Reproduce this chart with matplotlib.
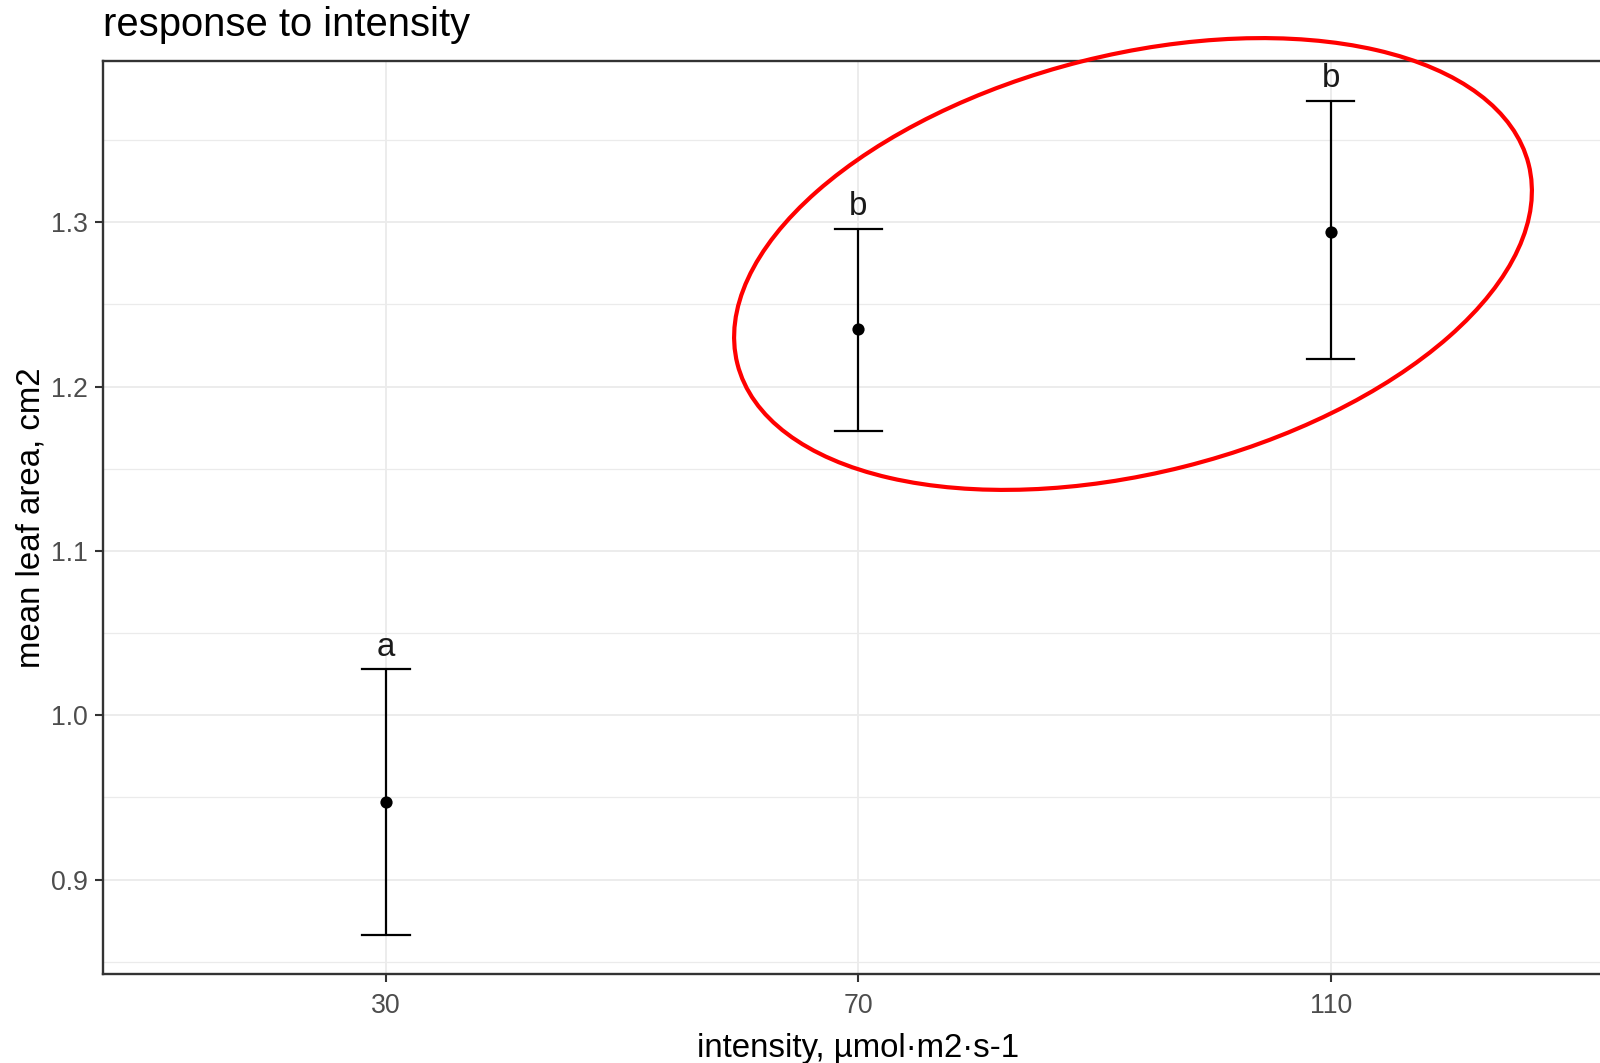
import matplotlib
matplotlib.use("Agg")
import matplotlib.pyplot as plt
from matplotlib.patches import Ellipse
import numpy as np

# ---- data ----
categories = ["30", "70", "110"]
means = [0.947, 1.235, 1.294]
upper = [1.028, 1.296, 1.374]
lower = [0.866, 1.173, 1.217]
letters = ["a", "b", "b"]
y_ticks = [0.9, 1.0, 1.1, 1.2, 1.3]
y_minor = [0.85, 0.95, 1.05, 1.15, 1.25, 1.35]

plt.rcParams['font.family'] = ['Liberation Sans', 'DejaVu Sans']

W, H = 1600, 1063
fig = plt.figure(figsize=(W / 100, H / 100), dpi=100)

left_px, right_px, top_px, bottom_px = 102.7, 1614, 61, 974
ax = fig.add_axes([left_px / W, 1 - bottom_px / H,
                   (right_px - left_px) / W, (bottom_px - top_px) / H])

x = np.arange(1, len(categories) + 1)

# grid
for yv in y_minor:
    ax.axhline(yv, color="#EBEBEB", lw=0.9, zorder=0)
for yv in y_ticks:
    ax.axhline(yv, color="#EBEBEB", lw=1.3, zorder=0)
for xv in x:
    ax.axvline(xv, color="#EBEBEB", lw=1.3, zorder=0)

# error bars
cap_half = 0.05
for xi, lo, hi in zip(x, lower, upper):
    ax.plot([xi, xi], [lo, hi], color="black", lw=1.6, zorder=3, solid_capstyle="butt")
    ax.plot([xi - cap_half, xi + cap_half], [hi, hi], color="black", lw=1.6, zorder=3)
    ax.plot([xi - cap_half, xi + cap_half], [lo, lo], color="black", lw=1.6, zorder=3)
ax.plot(x, means, "o", color="black", ms=8.8, zorder=4, markeredgewidth=0)

for xi, hi, lab in zip(x, upper, letters):
    ax.text(xi, hi + 0.0082, lab, ha="center", va="baseline", fontsize=23.8, color="#1a1a1a")

ax.set_xlim(0.4, 3.6)
ax.set_ylim(0.8425, 1.3982)
ax.set_xticks(x)
ax.set_xticklabels(categories)
ax.set_yticks(y_ticks)
ax.set_yticklabels([f"{v:.1f}" for v in y_ticks])

for s in ax.spines.values():
    s.set_color("#333333")
    s.set_linewidth(1.7)
ax.tick_params(axis="both", length=6, width=1.5, color="#333333",
               labelcolor="#4D4D4D", labelsize=19.2)
ax.tick_params(axis="x", pad=8)
ax.tick_params(axis="y", pad=5)

ax.set_xlabel("intensity, µmol·m2·s-1", fontsize=23.8, color="black", labelpad=10)
ax.set_ylabel("mean leaf area, cm2", fontsize=23.8, color="black", labelpad=3)

fig.text(103 / W, 1 - 36 / H, "response to intensity", fontsize=28.8,
         ha="left", va="baseline", color="black")

# red annotation ellipse (figure pixel coordinates)
ell = Ellipse((1133 / 100, (H - 264) / 100), 8.16, 4.18, angle=14.16,
              transform=fig.dpi_scale_trans, fill=False, edgecolor="#FF0000",
              lw=3.0, zorder=10)
fig.add_artist(ell)

fig.savefig("out.png", dpi=100)
